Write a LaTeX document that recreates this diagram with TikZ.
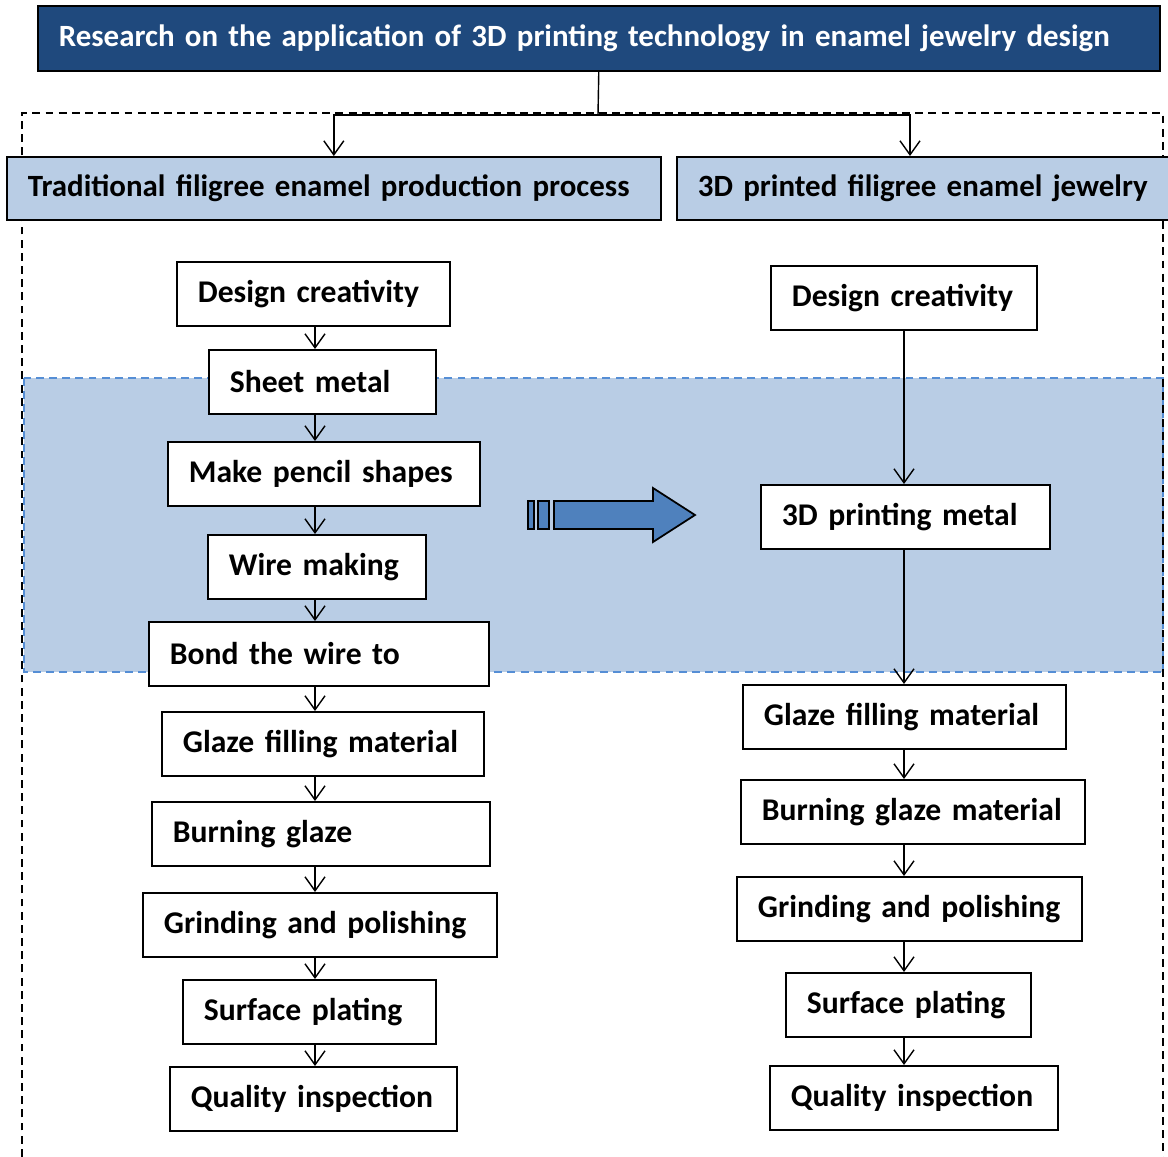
\documentclass[tikz,border=0pt]{standalone}
\usepackage{fontspec}
\setmainfont{Carlito}
\usetikzlibrary{arrows.meta,calc}

\definecolor{titleblue}{RGB}{31,73,125}
\definecolor{paleblue}{RGB}{185,205,229}
\definecolor{dashblue}{RGB}{85,142,213}
\definecolor{arrowblue}{RGB}{79,129,189}

\tikzset{
  stepbox/.style={draw, line width=1pt, fill=white, anchor=north west,
    minimum height=1.28cm, inner xsep=0.42cm, inner ysep=0pt, align=left,
    font=\fontsize{18}{22}\selectfont\bfseries},
  headbox/.style={draw, line width=1pt, fill=paleblue, anchor=north west,
    minimum height=1.26cm, inner xsep=0.42cm, inner ysep=0pt, align=left,
    font=\fontsize{17.6}{21}\selectfont\bfseries},
  flow/.style={-{Straight Barb[length=0.28cm,width=0.4cm]}, line width=0.8pt},
}

\begin{document}
\begin{tikzpicture}[x=0.02cm, y=-0.02cm]
            \useasboundingbox (0,0) rectangle (1168,1156);

            % Shaded band behind the metal forming steps
            \fill[paleblue] (24,378) rectangle (1163,672);
            \draw[dashblue, line width=0.9pt, dash pattern=on 4.5pt off 3pt] (24,378) rectangle (1163,672);

            % Outer dashed frame
            \draw[line width=0.9pt, dash pattern=on 4.5pt off 3pt] (22,1170) -- (22,113) -- (1163,113) -- (1163,1170);

            % Title
            \node[headbox, fill=titleblue, text=white, text width=21.6cm, minimum height=1.3cm] (title) at (37,5)
                  {\mbox{Research on the application of 3D printing technology in enamel jewelry design}};

            % Two headings
            \node[headbox, text width=12.24cm] (headL) at (6,156) {\mbox{Traditional filigree enamel production process}};
            \node[headbox, text width=9.14cm] (headR) at (676,156) {\mbox{3D printed filigree enamel jewelry}};

            \coordinate (split) at (598,115);
            \coordinate (rtop) at (910,0);
            \draw[line width=0.8pt] (title.south) -- (split);
            \draw[flow] (split) -| (headL.north);
            \draw[flow] (split) -| (headR.north -| rtop);

            % Traditional process (left)
            \node[stepbox, text width=4.62cm] (l1) at (176,261) {Design creativity};
            \node[stepbox, text width=3.70cm] (l2) at (208,349) {Sheet metal};
            \node[stepbox, text width=5.40cm] (l3) at (167,441) {Make pencil shapes};
            \node[stepbox, text width=3.52cm] (l4) at (207,534) {Wire making};
            \node[stepbox, text width=5.96cm] (l5) at (148,621) {Bond the wire to};
            \node[stepbox, text width=5.60cm] (l6) at (161,711) {Glaze filling material};
            \node[stepbox, text width=5.92cm] (l7) at (151,801) {Burning glaze};
            \node[stepbox, text width=6.24cm] (l8) at (142,892) {Grinding and polishing};
            \node[stepbox, text width=4.22cm] (l9) at (182,979) {Surface plating};
            \node[stepbox, text width=4.90cm] (l10) at (169,1066) {Quality inspection};

            \coordinate (lx) at (315,0);
            \foreach \a/\b in {l1/l2,l2/l3,l3/l4,l4/l5,l5/l6,l6/l7,l7/l8,l8/l9,l9/l10}
              \draw[flow] (\a.south -| lx) -- (\b.north -| lx);

            % 3D printed process (right)
            \node[stepbox, text width=4.48cm] (r1) at (770,265) {Design creativity};
            \node[stepbox, text width=4.94cm] (r2) at (760,484) {3D printing metal};
            \node[stepbox, text width=5.62cm] (r3) at (742,684) {Glaze filling material};
            \node[stepbox, text width=6.04cm] (r4) at (740,779) {Burning glaze material};
            \node[stepbox, text width=6.06cm] (r5) at (736,876) {Grinding and polishing};
            \node[stepbox, text width=4.06cm] (r6) at (785,972) {Surface plating};
            \node[stepbox, text width=4.92cm] (r7) at (769,1065) {Quality inspection};

            \coordinate (rx) at (904,0);
            \foreach \a/\b in {r1/r2,r2/r3,r3/r4,r4/r5,r5/r6,r6/r7}
              \draw[flow] (\a.south -| rx) -- (\b.north -| rx);

            % Block arrow between the columns
            \filldraw[fill=arrowblue, line width=1pt] (528,501) rectangle (534,529);
            \filldraw[fill=arrowblue, line width=1pt] (538,501) rectangle (549,529);
            \filldraw[fill=arrowblue, line width=1pt] (554,501) -- (653,501) -- (653,488) -- (695,515)
                -- (653,542) -- (653,529) -- (554,529) -- cycle;
\end{tikzpicture}
\end{document}
